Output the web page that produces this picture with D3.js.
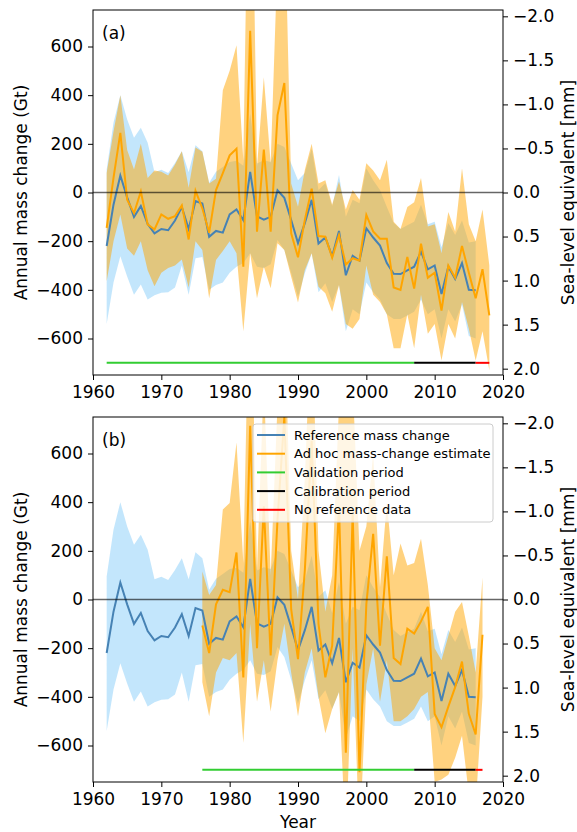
<!DOCTYPE html>
<html>
<head>
<meta charset="utf-8">
<script src="https://cdn.jsdelivr.net/npm/d3@7"></script>
<style>
body { margin: 0; background: #fff; }
text { font-family: "DejaVu Sans", sans-serif; }
</style>
</head>
<body>
<script>
// reference mass change (Gt), 1962-2016
const refStart = 1962
const refVal = [-220, -50, 70, -20, -100, -55, -130, -168, -150, -155, -115, -60, -150, -35, -45, -182, -158, -165, -90, -70, -114, 85, -98, -112, -100, 9, -22, -113, -208, -126, -30, -210, -185, -262, -158, -340, -260, -280, -147, -185, -218, -290, -334, -335, -320, -305, -243, -316, -300, -417, -305, -355, -290, -400, -402]
const refHigh = [95, 287, 400, 300, 225, 266, 204, 83, 94, 80, 121, 170, 83, 194, 170, 40, 85, 105, 125, 130, 110, 324, 119, 133, 125, 200, 187, 119, 50, 80, 180, 10, 38, -57, 72, -100, -30, -44, 100, 50, 10, -60, -125, -150, -135, -120, -50, -130, -120, -225, -125, -175, -115, -205, -200]
const refLow = [-540, -370, -262, -345, -420, -378, -440, -422, -412, -410, -390, -300, -420, -270, -265, -400, -380, -370, -330, -305, -290, -250, -305, -310, -295, -195, -236, -330, -428, -332, -250, -410, -373, -450, -380, -570, -480, -500, -370, -410, -440, -500, -520, -520, -505, -490, -440, -500, -480, -600, -480, -530, -460, -590, -600]

// (a) ad hoc estimate, 1962-2018
const adhocAStart = 1962
const adhocAVal = [-145, 60, 245, -30, -85, 4, -131, -152, -90, -108, -97, -53, -193, 7, -65, -165, 10, 80, 153, 180, -305, 665, -161, 176, -161, 317, 450, -168, -266, -113, 16, -179, -182, -268, -175, -296, -270, -280, -92, -160, -190, -190, -390, -400, -265, -395, -210, -350, -330, -485, -300, -350, -220, -330, -435, -315, -505]
const adhocAHigh = [80, 250, 400, 175, 95, 200, 60, 90, 85, 70, 115, 170, 20, 185, 167, 37, 57, 420, 500, 605, 130, 1900, 105, 474, 119, 960, 1225, 37, -59, 92, 200, 37, 50, -50, 45, -70, 10, -30, 120, 90, 50, 135, -120, -150, -60, -40, 60, -140, -130, -250, -80, -160, 100, -130, -200, -70, -300]
const adhocALow = [-365, -200, -90, -230, -260, -200, -320, -385, -330, -310, -300, -275, -390, -200, -236, -435, -277, -240, -200, -250, -570, -250, -435, -305, -394, -209, -236, -346, -452, -318, -250, -387, -414, -490, -380, -540, -560, -520, -300, -420, -450, -500, -640, -640, -500, -640, -420, -580, -540, -690, -540, -600, -450, -560, -690, -570, -730]

// (b) ad hoc estimate, 1976-2017
const adhocBStart = 1976
const adhocBVal = [-107, -220, -20, 40, 30, 193, -320, 714, -200, 383, -230, 328, 750, -40, -245, 120, 652, -100, -320, -190, 383, -630, 356, -710, -20, 270, -190, 177, -240, -265, -120, -140, -90, -30, -470, -525, -440, -360, -255, -470, -555, -145]
const adhocBHigh = [115, 18, 60, 370, 397, 645, 150, 1500, 120, 900, 100, 800, 1200, 200, 0, 500, 1200, 200, -50, 100, 800, 800, 900, 200, 300, 600, 50, 400, 100, 230, 140, 150, 250, 60, -200, -250, -150, -50, -10, -150, -300, 90]
const adhocBLow = [-340, -480, -300, -240, -250, -220, -590, -100, -420, -250, -460, -250, -100, -300, -480, -300, -200, -400, -550, -450, -380, -1000, -200, -1000, -350, -200, -420, -250, -500, -500, -480, -450, -400, -380, -750, -740, -720, -650, -560, -800, -850, -400]

// periods drawn along the bottom: [start, end]
const periodsA = [[1962, 2007], [2007, 2016], [2016, 2018]]
const periodsB = [[1976, 2007], [2007, 2016], [2016, 2017]]
const periodColors = ["#32cd32", "#000000", "#ff0000"]
const periodLevel = -700

const xTicks = [1960, 1970, 1980, 1990, 2000, 2010, 2020]
const yTicks = [-600, -400, -200, 0, 200, 400, 600]
const slrTicks = [-2.0, -1.5, -1.0, -0.5, 0.0, 0.5, 1.0, 1.5, 2.0]
const gtPerMm = 362

const legendLabels = ["Reference mass change", "Ad hoc mass-change estimate", "Validation period", "Calibration period", "No reference data"]
const legendColors = ["steelblue", "orange", "#32cd32", "#000000", "#ff0000"]

const w = 577
const h = 832
const left = 93
const right = 503
const fs = 17

const svg = d3.select("body")
  .append("svg")
  .attr("width", w)
  .attr("height", h)

const xScale = d3.scaleLinear().domain([1960, 2020]).range([left, right])

function series(start, vals, hi, lo) {
  return vals.map((v, i) => ({ year: start + i, v: v, hi: hi[i], lo: lo[i] }))
}

function drawPanel(top, bottom, tag, adhoc, periods, id, withXLabel, withLegend) {
  const yScale = d3.scaleLinear().domain([-750, 750]).range([bottom, top])
  const slrScale = d3.scaleLinear().domain([750 / gtPerMm, -750 / gtPerMm]).range([bottom, top])

  svg.append("clipPath").attr("id", "clip" + id)
    .append("rect")
    .attr("x", left).attr("y", top)
    .attr("width", right - left).attr("height", bottom - top)

  const g = svg.append("g").attr("clip-path", "url(#clip" + id + ")")
  const ref = series(refStart, refVal, refHigh, refLow)

  const area = d3.area()
    .x(d => xScale(d.year))
    .y0(d => yScale(d.lo))
    .y1(d => yScale(d.hi))
  const line = d3.line()
    .x(d => xScale(d.year))
    .y(d => yScale(d.v))

  g.append("path").datum(ref)
    .attr("d", area)
    .attr("fill", "lightskyblue").attr("fill-opacity", 0.5)
  g.append("path").datum(adhoc)
    .attr("d", area)
    .attr("fill", "orange").attr("fill-opacity", 0.5)
  g.append("path").datum(ref)
    .attr("d", line)
    .attr("fill", "none").attr("stroke", "steelblue").attr("stroke-width", 2)
  g.append("path").datum(adhoc)
    .attr("d", line)
    .attr("fill", "none").attr("stroke", "orange").attr("stroke-width", 2)

  // zero line
  g.append("line")
    .attr("x1", left).attr("x2", right)
    .attr("y1", yScale(0)).attr("y2", yScale(0))
    .attr("stroke", "#000").attr("stroke-opacity", 0.6).attr("stroke-width", 1.3)

  periods.forEach((p, i) => {
    g.append("line")
      .attr("x1", xScale(p[0])).attr("x2", xScale(p[1]))
      .attr("y1", yScale(periodLevel)).attr("y2", yScale(periodLevel))
      .attr("stroke", periodColors[i]).attr("stroke-width", 2)
  })

  // frame
  svg.append("rect")
    .attr("x", left).attr("y", top)
    .attr("width", right - left).attr("height", bottom - top)
    .attr("fill", "none").attr("stroke", "#000").attr("stroke-width", 1)

  const xAxis = d3.axisBottom(xScale).tickValues(xTicks).tickFormat(d3.format("d")).tickSize(5).tickPadding(6)
  const yAxis = d3.axisLeft(yScale).tickValues(yTicks).tickSize(5).tickPadding(5)
  const rAxis = d3.axisRight(slrScale).tickValues(slrTicks).tickFormat(d3.format(".1f")).tickSize(5).tickPadding(5)

  const gx = svg.append("g").attr("transform", "translate(0," + bottom + ")").call(xAxis)
  const gy = svg.append("g").attr("transform", "translate(" + left + ",0)").call(yAxis)
  const gr = svg.append("g").attr("transform", "translate(" + right + ",0)").call(rAxis)
  ;[gx, gy, gr].forEach(a => {
    a.select(".domain").remove()
    a.selectAll("text").attr("font-size", fs).attr("font-family", "DejaVu Sans").attr("fill", "#000")
    a.selectAll("line").attr("stroke", "#000")
  })

  svg.append("text")
    .attr("x", left + 9).attr("y", top + 29)
    .attr("font-size", fs)
    .text(tag)

  const mid = (top + bottom) / 2
  svg.append("text")
    .attr("transform", "translate(21," + mid + ") rotate(-90)")
    .attr("text-anchor", "middle").attr("dy", "0.35em")
    .attr("font-size", fs)
    .text("Annual mass change (Gt)")
  svg.append("text")
    .attr("transform", "translate(568," + mid + ") rotate(-90)")
    .attr("text-anchor", "middle").attr("dy", "0.35em")
    .attr("font-size", fs)
    .text("Sea-level equivalent [mm]")

  if (withXLabel) {
    svg.append("text")
      .attr("x", (left + right) / 2).attr("y", bottom + 46)
      .attr("text-anchor", "middle")
      .attr("font-size", fs)
      .text("Year")
  }

  if (withLegend) {
    const lg = svg.append("g").attr("transform", "translate(253," + (top + 7) + ")")
    lg.append("rect")
      .attr("width", 240).attr("height", 98).attr("rx", 3)
      .attr("fill", "#fff").attr("fill-opacity", 0.8)
      .attr("stroke", "#ccc").attr("stroke-width", 1)
    legendLabels.forEach((lab, i) => {
      const yy = 11 + i * 18.7
      lg.append("line")
        .attr("x1", 4).attr("x2", 32).attr("y1", yy).attr("y2", yy)
        .attr("stroke", legendColors[i]).attr("stroke-width", 2)
      lg.append("text")
        .attr("x", 41).attr("y", yy).attr("dy", "0.35em")
        .attr("font-size", 13)
        .text(lab)
    })
  }
}

drawPanel(10, 375, "(a)", series(adhocAStart, adhocAVal, adhocAHigh, adhocALow), periodsA, "a", false, false)
drawPanel(417, 782, "(b)", series(adhocBStart, adhocBVal, adhocBHigh, adhocBLow), periodsB, "b", true, true)
</script>
</body>
</html>
